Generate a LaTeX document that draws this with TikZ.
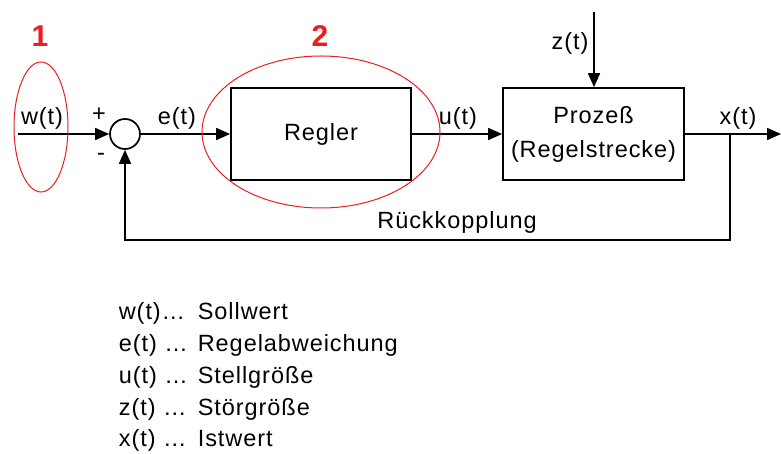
\documentclass[tikz,border=0pt]{standalone}
\usepackage{fontspec}
\setmainfont{Liberation Sans}[LetterSpace=4.0]
\usepackage{tikz}
\usetikzlibrary{shapes.geometric, arrows.meta, positioning}
\definecolor{markRed}{RGB}{235, 30, 30}

\begin{document}
\begin{tikzpicture}[
  x=1pt, y=1pt,
  block/.style={
    rectangle, draw, line width=1.7pt,
    minimum width=180pt, minimum height=92pt,
    align=center, inner sep=0pt,
    font=\fontsize{23.5}{34}\selectfont
  },
  junction/.style={circle, draw, line width=1.7pt, minimum size=30pt, inner sep=0pt},
  lbl/.style={inner sep=0pt, font=\fontsize{23.5}{26}\selectfont},
  ring/.style={ellipse, draw=markRed, line width=1pt, inner sep=0pt},
  marknum/.style={inner sep=0pt, text=markRed, font=\fontsize{30}{30}\selectfont\bfseries},
  legend/.style={anchor=west, inner sep=0pt, font=\fontsize{23.5}{26}\selectfont},
  >={Triangle[length=14pt, width=12pt]}, line width=1.7pt
]
\useasboundingbox (0,0) rectangle (781,453);

% blocks
\node[junction] (sum) at (125,319) {};
\node[block] (regler) at (321,319) {Regler};
\node[block, minimum width=181pt] (prozess) at (593.5,319) {Prozeß\\(Regelstrecke)};

\coordinate (win) at (18,319);
\coordinate (zin) at (594,441);
\coordinate (branch) at (730,319);
\coordinate (xout) at (781,319);
\coordinate (fb) at (730,213);

% signals
\draw[->] (win) -- (sum);
\draw[->] (sum) -- (regler);
\draw[->] (regler) -- (prozess);
\draw[->] (zin) -- (zin |- prozess.north);
\draw[->] (prozess) -- (xout);
\draw[->] (branch) -- (fb) -| (sum.south);

\node[lbl] (wlbl) at (42,335) {w(t)};
\node[lbl] (plus) at (99,338) {+};
\node[lbl] (minus) at (101,296) {-};
\node[lbl] (elbl) at (177,335) {e(t)};
\node[lbl] (ulbl) at (458,335) {u(t)};
\node[lbl] (zlbl) at (570,410) {z(t)};
\node[lbl] (xlbl) at (738,335) {x(t)};
\node[lbl] (rueck) at (457,231) {Rückkopplung};

% red markings
\node[ring, minimum width=54pt, minimum height=130pt] (ring1) at (41,326) {};
\node[ring, minimum width=238pt, minimum height=152pt] (ring2) at (321,321) {};
\node[marknum] (one) at (40,417) {1};
\node[marknum] (two) at (320,417) {2};

% legend
\node[legend] (legw) at (118,140) {\makebox[79pt][l]{w(t)\ldots}Sollwert};
\node[legend] (lege) at (118,108) {\makebox[79pt][l]{e(t) \ldots}Regelabweichung};
\node[legend] (legu) at (118,76) {\makebox[79pt][l]{u(t) \ldots}Stellgröße};
\node[legend] (legz) at (118,44) {\makebox[79pt][l]{z(t) \ldots}Störgröße};
\node[legend] (legx) at (118,13) {\makebox[79pt][l]{x(t) \ldots}Istwert};
\end{tikzpicture}
\end{document}
